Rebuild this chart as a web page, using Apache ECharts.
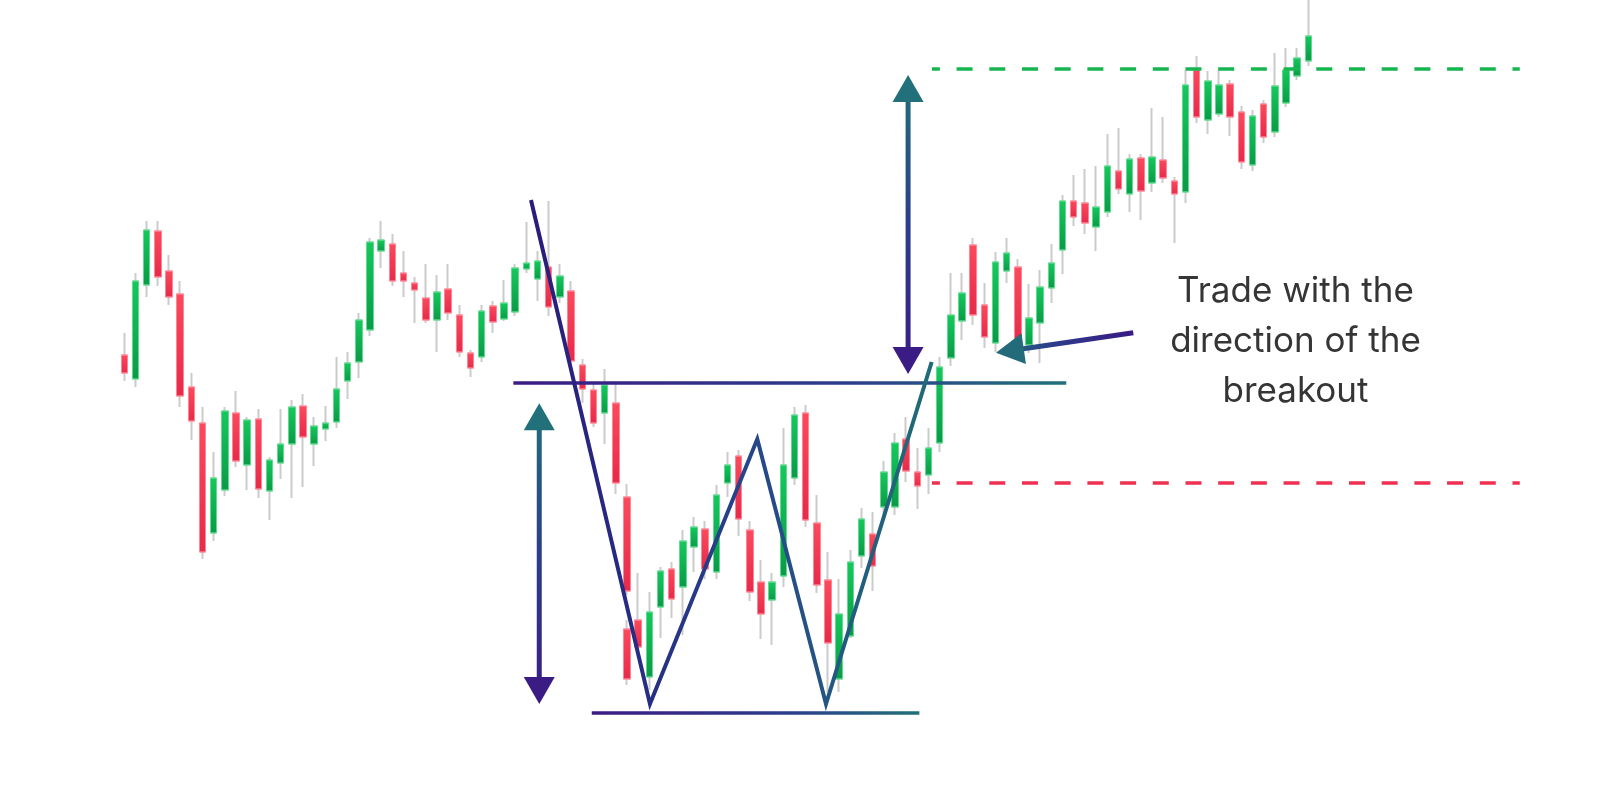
<!DOCTYPE html>
<html>
<head>
<meta charset="utf-8">
<script src="https://cdn.jsdelivr.net/npm/echarts@6/dist/echarts.min.js"></script>
<style>
html, body { margin: 0; padding: 0; background: #fff; }
#main { width: 1600px; height: 809px; }
</style>
</head>
<body>
<div id="main"></div>
<script>
// candle values (price units), one entry per session
var opens = [445,421,515,569,529,506,413,377,267,310, 387,335,381,309,337,356,394,356,371,378,
             419,438,470,549,556,527,517,502,480,511, 485,447,443,494,481,488,531,521,533,503,
             509,435,410,387,397,303,180,123,193,231, 213,253,271,228,317,344,270,218,200,224,
             322,387,277,220,121,164,244,266,293,293, 361,328,325,357,442,479,555,495,457,529,
             533,455,477,512,550,599,597,573,588,629, 606,642,617,640,619,608,730,680,686,716,
             688,635,696,668,697,724,739];
var closes = [427,519,570,523,503,404,379,248,322,389, 339,380,311,340,356,393,363,374,377,411,
              437,480,558,560,519,519,510,480,508,487, 448,432,489,478,497,532,537,539,493,524,
              439,411,377,415,317,209,153,188,229,201, 259,273,231,305,335,281,208,186,218,335,
              385,280,215,157,186,238,281,234,328,357, 329,314,352,433,485,507,485,463,538,547,
              457,482,513,537,599,583,577,593,634,611, 641,609,643,622,606,715,683,719,715,683,
              638,684,663,714,730,742,764];
var lows = [419,413,503,514,495,393,360,241,259,304, 333,310,302,280,321,302,313,334,359,372,
            401,422,464,532,514,503,477,477,448,480, 443,423,438,467,479,484,527,499,484,497,
            435,397,373,356,306,205,150,110,162,182, 165,228,221,221,303,264,199,161,155,213,
            315,273,207,108,108,162,232,209,285,285, 318,291,306,348,434,460,475,452,448,517,
            450,447,437,497,526,574,566,549,583,606, 588,580,608,617,557,597,677,666,683,664,
            631,629,657,663,693,720,734];
var highs = [467,527,579,579,545,519,427,393,348,393, 409,383,391,343,391,400,406,383,394,443,
             448,487,562,579,566,549,523,536,525,536, 495,450,495,499,520,536,578,549,599,536,
             519,441,417,431,416,316,227,208,233,238, 270,283,279,315,348,350,279,240,227,372,
             393,395,305,248,221,250,292,288,339,367, 383,352,372,443,527,527,562,517,548,562,
             541,516,530,556,605,625,631,634,666,672, 646,646,692,683,623,730,744,729,730,720,
             694,690,700,747,752,752,800];
// a second candle drawn in the same slot as session 46
var extraIndex = 45;
var extraCandle = [171, 121, 115, 180]; // open, close, low, high

// pattern levels
var neckPrice = 417, floorPrice = 87, targetPrice = 731, stopPrice = 317;
var patternX = [36.41, 47.06, 56.67, 62.82, 72.28];
var patternP = [600, 96, 361, 96, 438];

var chart = echarts.init(document.getElementById('main'));

var cats = opens.map(function (v, i) { return String(i + 1); });
var wickData = opens.map(function (o, i) { return [o, closes[i], lows[i], highs[i]]; });
var bodyData = opens.map(function (o, i) {
    var c = closes[i];
    return [o, c, Math.min(o, c), Math.max(o, c)];
});
var extraWick = cats.map(function (v, i) { return i === extraIndex ? extraCandle : '-'; });
var extraBody = cats.map(function (v, i) {
    if (i !== extraIndex) return '-';
    var o = extraCandle[0], c = extraCandle[1];
    return [o, c, Math.min(o, c), Math.max(o, c)];
});

var greenFill = new echarts.graphic.LinearGradient(0, 0, 0, 1, [
    {offset: 0, color: '#15c95c'}, {offset: 1, color: '#0a9a47'}
]);
var redFill = new echarts.graphic.LinearGradient(0, 0, 0, 1, [
    {offset: 0, color: '#fb4a5c'}, {offset: 1, color: '#e62a4b'}
]);

var wickStyle = {
    color: '#cbcbcb', color0: '#cbcbcb',
    borderColor: '#cbcbcb', borderColor0: '#cbcbcb', borderWidth: 2
};
var bodyStyle = {
    color: greenFill, color0: redFill,
    borderColor: '#62d990', borderColor0: '#ff8595', borderWidth: 1
};

var option = {
    animation: false,
    backgroundColor: '#ffffff',
    grid: {left: 118.7, right: 286.1, top: 0, bottom: 0},
    xAxis: [
        {type: 'category', data: cats, show: false, boundaryGap: true},
        {type: 'value', min: -0.5, max: 106.5, show: false}
    ],
    yAxis: {type: 'value', min: -9, max: 800, show: false, splitLine: {show: false}},
    series: [
        {type: 'candlestick', name: 'wick', data: wickData, barWidth: 1, itemStyle: wickStyle, z: 2, silent: true},
        {type: 'candlestick', name: 'wick2', data: extraWick, barWidth: 1, itemStyle: wickStyle, z: 2, silent: true},
        {type: 'candlestick', name: 'body', data: bodyData, barWidth: 7, itemStyle: bodyStyle, z: 3, silent: true},
        {type: 'candlestick', name: 'body2', data: extraBody, barWidth: 7, itemStyle: bodyStyle, z: 3, silent: true}
    ]
};
chart.setOption(option);

function px(x, p) {
    return chart.convertToPixel({xAxisIndex: 1, yAxisIndex: 0}, [x, p]);
}
function grad(a, b, stops) {
    return new echarts.graphic.LinearGradient(a[0], a[1], b[0], b[1], stops, true);
}

var TEAL = '#21707a', NAVY = '#2b3d8b', PURPLE = '#3b1b84', INDIGO = '#2a1c7c';
var els = [];

// neckline and floor
function hline(x0, x1, p) {
    var a = px(x0, p), b = px(x1, p);
    els.push({
        type: 'line', z: 100,
        shape: {x1: a[0], y1: a[1], x2: b[0], y2: b[1]},
        style: {stroke: grad([a[0], a[1]], [b[0], a[1] + 0.01], [
            {offset: 0, color: PURPLE}, {offset: 0.6, color: NAVY}, {offset: 1, color: TEAL}
        ]), lineWidth: 3.5}
    });
}
hline(34.83, 84.33, neckPrice);
hline(41.85, 71.18, floorPrice);

// trendline + W
var pts = patternX.map(function (x, i) { return px(x, patternP[i]); });
els.push({
    type: 'polyline', z: 101,
    shape: {points: pts},
    style: {
        stroke: grad([pts[0][0], 0], [pts[4][0], 0.01], [
            {offset: 0, color: INDIGO}, {offset: 0.3, color: '#262f84'},
            {offset: 0.55, color: '#27468a'}, {offset: 1, color: '#1f6c76'}
        ]),
        lineWidth: 4, lineJoin: 'miter', fill: null
    }
});

// vertical double arrows
function arrowV(x, pTop, pBot) {
    var t = px(x, pTop), b = px(x, pBot);
    var L = 27, W = 15.5;
    els.push({
        type: 'line', z: 102,
        shape: {x1: t[0], y1: t[1] + L - 2, x2: b[0], y2: b[1] - L + 2},
        style: {stroke: grad([t[0], t[1]], [t[0] + 0.01, b[1]], [
            {offset: 0, color: TEAL}, {offset: 0.5, color: NAVY}, {offset: 1, color: PURPLE}
        ]), lineWidth: 5}
    });
    els.push({type: 'polygon', z: 103,
        shape: {points: [[t[0], t[1]], [t[0] - W, t[1] + L], [t[0] + W, t[1] + L]]},
        style: {fill: TEAL}});
    els.push({type: 'polygon', z: 103,
        shape: {points: [[b[0], b[1]], [b[0] - W, b[1] - L], [b[0] + W, b[1] - L]]},
        style: {fill: PURPLE}});
}
arrowV(37.15, 396.7, 96);
arrowV(70.17, 725, 426);

// pointer toward the breakout candles
(function () {
    var tail = px(90.33, 467.3), tip = px(78.04, 447.3);
    var dx = tip[0] - tail[0], dy = tip[1] - tail[1];
    var len = Math.sqrt(dx * dx + dy * dy), ux = dx / len, uy = dy / len;
    var L = 28, W = 15.5;
    var bx = tip[0] - ux * L, by = tip[1] - uy * L;
    els.push({
        type: 'line', z: 102,
        shape: {x1: tail[0], y1: tail[1], x2: bx + ux * 2, y2: by + uy * 2},
        style: {stroke: grad(tail, tip, [
            {offset: 0, color: PURPLE}, {offset: 0.6, color: NAVY}, {offset: 1, color: TEAL}
        ]), lineWidth: 5}
    });
    els.push({type: 'polygon', z: 103,
        shape: {points: [tip, [bx - uy * W, by + ux * W], [bx + uy * W, by - ux * W]]},
        style: {fill: '#236a7a'}});
})();

// target and stop levels
function dashed(p, color) {
    var a = px(72.3, p), b = px(124.93, p);
    els.push({
        type: 'line', z: 100,
        shape: {x1: a[0], y1: a[1], x2: b[0], y2: b[1]},
        style: {stroke: color, lineWidth: 3.5, lineDash: [16, 16.7], lineDashOffset: 8}
    });
}
dashed(targetPrice, '#17b54f');
dashed(stopPrice, '#ef3050');

// label
var lp = px(104.85, 458.8);
els.push({
    type: 'text', z: 110,
    x: lp[0], y: lp[1],
    style: {
        text: 'Trade with the\ndirection of the\nbreakout',
        fill: '#353535',
        fontSize: 35, fontFamily: 'Inter', fontWeight: 400,
        lineHeight: 50,
        align: 'center', verticalAlign: 'middle'
    }
});

chart.setOption({graphic: {elements: els}});
</script>
</body>
</html>
